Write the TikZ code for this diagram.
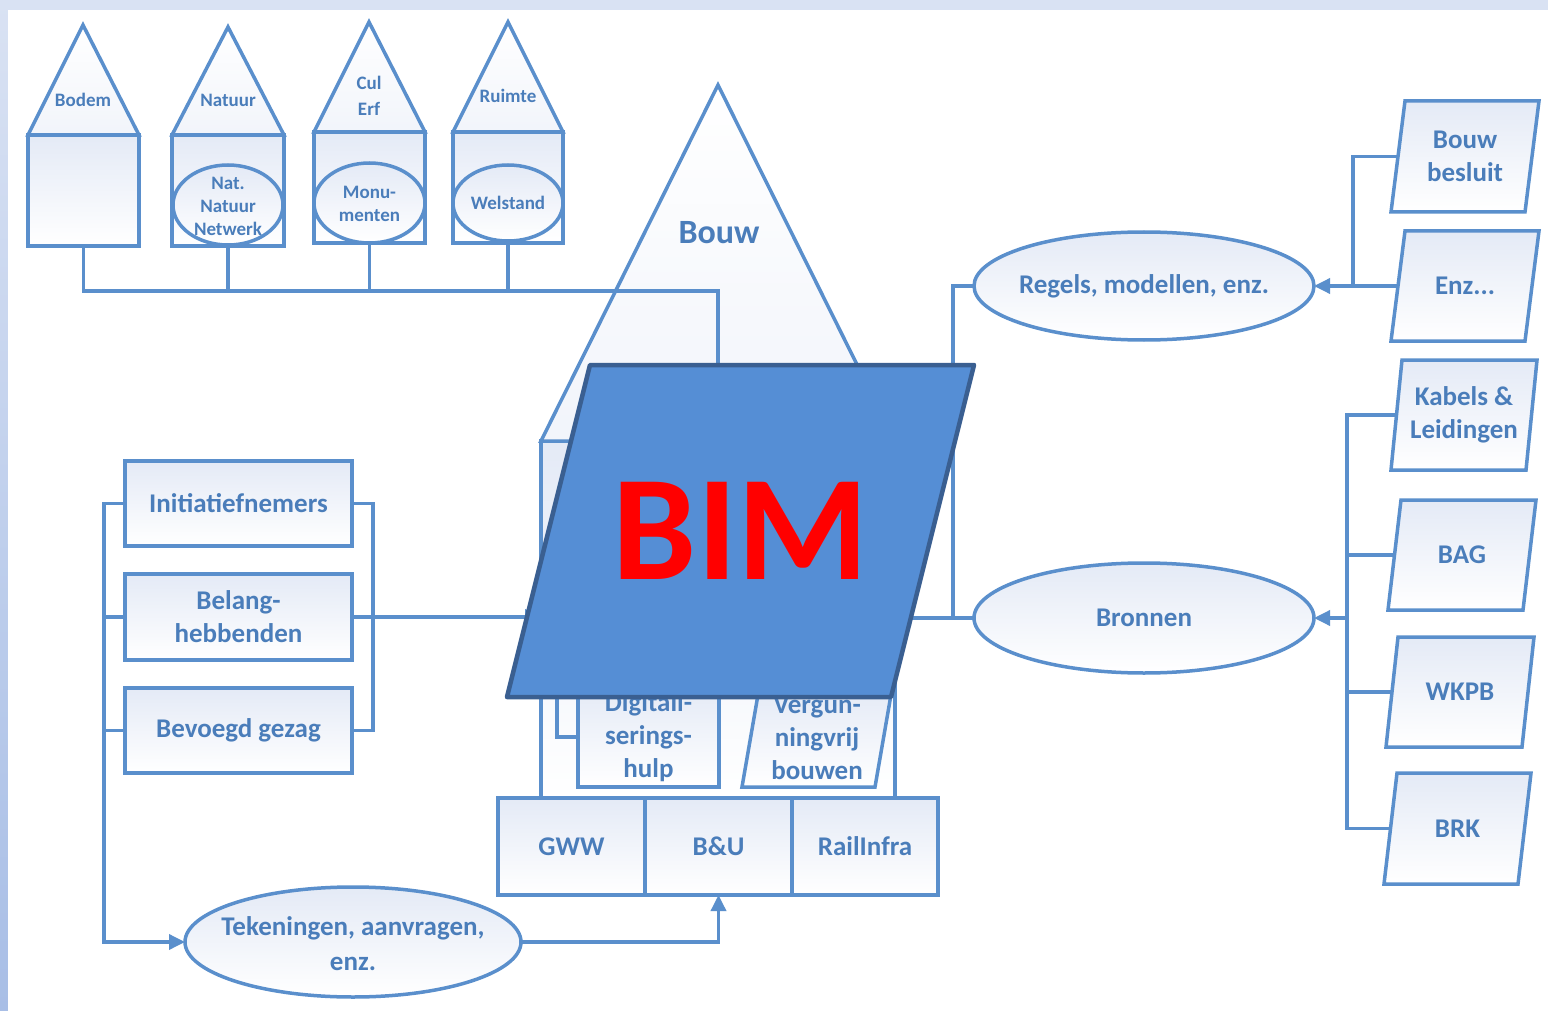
\documentclass[tikz,border=0pt]{standalone}
\usepackage{fontspec}
\setmainfont{Carlito}
\usetikzlibrary{shapes.geometric,arrows.meta}
\definecolor{ln}{HTML}{5A8FCC}
\definecolor{tx}{HTML}{4A7DBA}
\definecolor{fillA}{HTML}{E4EAF6}
\definecolor{bimfill}{HTML}{558ED5}
\definecolor{bimline}{HTML}{3A5F91}
\definecolor{bgA}{HTML}{D9E2F3}
\definecolor{bgB}{HTML}{A8BEE6}
% #1 name, #2 centre, #3 side width, #4 height, #5 slant, #6 draw style, #7 text style, #8 text
\newcommand\mypara[8]{%
  \node[minimum width=#3pt, minimum height=#4pt, inner sep=0pt, outer sep=0pt] (#1) at #2 {};
  \draw[#6] ([xshift=#5pt/2]#1.north west) -- ([xshift=#5pt/2]#1.north east)
     -- ([xshift=-#5pt/2]#1.south east) -- ([xshift=-#5pt/2]#1.south west) -- cycle;
  \node[#7] (#1t) at (#1) {#8};
}
\begin{document}
\begin{tikzpicture}[x=1pt,y=-1pt,
  every node/.style={font=\bfseries, text=tx},
  lbl/.style={font=\fontsize{27}{33}\selectfont\bfseries, align=center, text=tx},
  hlbl/.style={font=\fontsize{19}{23}\selectfont\bfseries, align=center, text=tx},
  rbox/.style={draw=ln, line width=3.5pt, rectangle, top color=fillA, bottom color=white, inner sep=0pt, outer sep=0pt},
  oval/.style={draw=ln, line width=3.5pt, ellipse, top color=fillA, bottom color=white, inner sep=0pt, outer sep=0pt},
  roof/.style={draw=ln, line width=3.5pt, line join=miter, top color=white, bottom color=fillA!50},
  paraline/.style={draw=ln, line width=3.5pt, line join=miter, top color=fillA, bottom color=white},
  bimline/.style={draw=bimline, line width=4.5pt, line join=round, fill=bimfill},
  bimtext/.style={text=red, font=\fontsize{150}{150}\selectfont\bfseries},
  conn/.style={draw=ln, line width=3.5pt},
  arr/.style={-{Triangle[length=16pt,width=15pt]}},
]
% background
\fill[bgA] (0,0) rectangle (1548,1011);
\shade[top color=bgA, bottom color=bgB] (0,0) rectangle (8,1011);
\fill[white] (8,10) rectangle (1548,1011);
\useasboundingbox (0,0) rectangle (1548,1011);

% small houses
\node[rbox, minimum width=111pt, minimum height=111pt] (h1) at (83.5,190.5) {};
\draw[roof] (h1.north west) -- (83,25) -- (h1.north east) -- cycle;
\node[hlbl] (t1) at (83,100) {Bodem};

\node[rbox, minimum width=112pt, minimum height=111pt] (h2) at (228,190.5) {};
\draw[roof] (h2.north west) -- (228,27) -- (h2.north east) -- cycle;
\node[hlbl] (t2) at (228,100) {Natuur};
\node[oval, minimum width=110pt, minimum height=80pt] (e2) at (228,205) {};
\node[hlbl] (et2) at (228,206) {Nat.\\Natuur\\Netwerk};

\node[rbox, minimum width=111pt, minimum height=111pt] (h3) at (369.5,187.5) {};
\draw[roof] (h3.north west) -- (369,22) -- (h3.north east) -- cycle;
\node[hlbl, font=\fontsize{19}{26}\selectfont\bfseries] (t3) at (369,96) {Cul\\Erf};
\node[oval, minimum width=111pt, minimum height=80pt] (e3) at (369.5,203) {};
\node[hlbl] (et3) at (369.5,203.5) {Monu-\\menten};

\node[rbox, minimum width=110pt, minimum height=111pt] (h4) at (508,187.5) {};
\draw[roof] (h4.north west) -- (508,22) -- (h4.north east) -- cycle;
\node[hlbl] (t4) at (508,96) {Ruimte};
\node[oval, minimum width=110pt, minimum height=76pt] (e4) at (508,203) {};
\node[hlbl] (et4) at (508,203) {Welstand};

% big Bouw house
\node[rbox, minimum width=354pt, minimum height=357pt] (bouwbox) at (718,619.5) {};
\draw[roof] (bouwbox.north west) -- (718,85) -- (bouwbox.north east) -- cycle;
\node[lbl, font=\fontsize{34}{40}\selectfont\bfseries] (bouwt) at (719,233) {Bouw};

\node[rbox, lbl, minimum width=141pt, minimum height=100pt] (digi) at (648.5,737) {Digitali-\\serings-\\hulp};
\mypara{verg}{(817,738)}{133}{98}{17}{paraline}{lbl}{Vergun-\\ningvrij\\bouwen}
\draw[conn] (digi.west) -- (557,737) -- (557,640);

% bottom boxes
\node[rbox, lbl, minimum width=147pt, minimum height=97pt] (gww) at (571.5,846.5) {GWW};
\node[rbox, lbl, minimum width=147pt, minimum height=97pt] (bu) at (718.5,846.5) {B\&U};
\node[rbox, lbl, minimum width=146pt, minimum height=97pt] (rail) at (865,846.5) {RailInfra};

% house connectors
\coordinate (jt) at (718,291);
\draw[conn] (h1.south) |- (jt) -- (bouwbox.north);
\draw[conn] (h2.south) -- (h2.south |- jt);
\draw[conn] (h3.south) -- (h3.south |- jt);
\draw[conn] (h4.south) -- (h4.south |- jt);

% left group
\node[rbox, lbl, minimum width=227pt, minimum height=85pt] (init) at (238.5,503.5) {Initiatiefnemers};
\node[rbox, lbl, minimum width=227pt, minimum height=86pt] (bel) at (238.5,617) {Belang-\\hebbenden};
\node[rbox, lbl, minimum width=227pt, minimum height=85pt] (bev) at (238.5,730.5) {Bevoegd gezag};

\node[oval, minimum width=336pt, minimum height=110pt] (tek) at (353,942) {};
\node[lbl, font=\fontsize{27}{35}\selectfont\bfseries] (tekt) at (353,944) {Tekeningen, aanvragen,\\enz.};

\draw[conn] (init.east) -- (373,503.5) |- (bev.east);
\draw[conn,arr] (bel.east) -- (bel.east -| bouwbox.west);
\draw[conn,arr] (init.west) -- (104,503.5) |- (tek.west);
\draw[conn] (bel.west) -- (104,617);
\draw[conn] (bev.west) -- (104,730.5);
\draw[conn,arr] (tek.east) -| (bu.south);

% right side
\node[oval, minimum width=340pt, minimum height=108pt] (regels) at (1144,286) {};
\node[lbl] (regelst) at (1144,286) {Regels, modellen, enz.};
\node[oval, minimum width=340pt, minimum height=110pt] (bronnen) at (1144,618) {};
\node[lbl] (bronnent) at (1144,618) {Bronnen};

\mypara{bb}{(1465,156.5)}{134}{111}{14}{paraline}{lbl}{Bouw\\besluit}
\mypara{enz}{(1465,286)}{134}{110}{14}{paraline}{lbl}{Enz...}
\mypara{kab}{(1464,415)}{135}{110}{11}{paraline}{lbl}{Kabels \&\\Leidingen}
\mypara{bag}{(1462,555)}{135}{110}{13}{paraline}{lbl}{BAG}
\mypara{wkpb}{(1460,692)}{136}{110}{12}{paraline}{lbl}{WKPB}
\mypara{brk}{(1457.5,828.5)}{134}{111}{13}{paraline}{lbl}{BRK}

\draw[conn] (bb.west) -| (1353,286);
\draw[conn,arr] (enz.west) -- (regels.east);
\coordinate (rb) at (1347,618);
\draw[conn] (kab.west) -| (rb);
\draw[conn] (brk.west) -| (rb);
\draw[conn] (bag.west) -- (bag.west -| rb);
\draw[conn] (wkpb.west) -- (wkpb.west -| rb);
\draw[conn,arr] (rb) -- (bronnen.east);

\draw[conn] (regels.west) -| (953,618);
\draw[conn,arr] (bronnen.west) -- (bronnen.west -| bouwbox.east);

% BIM
\mypara{bim}{(740.5,531)}{384}{332}{83}{bimline}{bimtext}{BIM}
\end{tikzpicture}
\end{document}
